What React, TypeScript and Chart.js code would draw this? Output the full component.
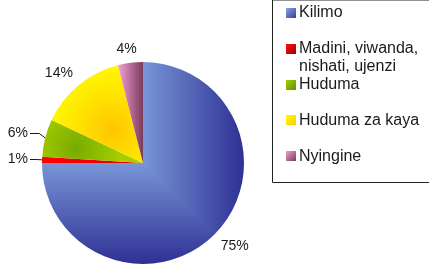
import { useEffect, useRef } from 'react';
import { Chart, registerables } from 'chart.js';

Chart.register(...registerables);

// ---- data ----
const categories = ['Kilimo', 'Madini, viwanda, nishati, ujenzi', 'Huduma', 'Huduma za kaya', 'Nyingine'];
const shares = [75, 1, 6, 14, 4];

// ---- styles ----
const flatColors = ['#5a6fc0', '#ff0000', '#8fbf00', '#ffe600', '#c0709a'];
const markerLight = ['#8aa6e0', '#ff1010', '#a4d000', '#ffff00', '#f29ad0'];
const markerDark = ['#3a3c9c', '#a00000', '#5f9000', '#ffc800', '#7a3c5e'];
const LABEL_FONT = '14px "Liberation Sans", Arial, Helvetica, sans-serif';
const LEGEND_FONT = '16px "Liberation Sans", Arial, Helvetica, sans-serif';
const TEXT = '#1a1a1a';

function geom(chart: any) {
  const a = chart.chartArea;
  const cx = (a.left + a.right) / 2;
  const cy = (a.top + a.bottom) / 2;
  const r = Math.min(a.right - a.left, a.bottom - a.top) / 2;
  return { cx, cy, r };
}

function bluePattern(chart: any) {
  const { cx, cy, r } = geom(chart);
  const key = `${cx},${cy},${r},${chart.width},${chart.height}`;
  if (chart.$bluePat && chart.$bluePatKey === key) return chart.$bluePat;
  const c = document.createElement('canvas');
  c.width = chart.width;
  c.height = chart.height;
  const cctx = c.getContext('2d')!;
  const img = cctx.createImageData(c.width, c.height);
  const L = [120, 150, 214];
  const D = [46, 48, 148];
  for (let y = 0; y < c.height; y++) {
    for (let x = 0; x < c.width; x++) {
      const dx = x + 0.5 - cx;
      const dy = y + 0.5 - cy;
      let t = Math.max(dx, dy) / r;
      t = Math.max(0, Math.min(1, t));
      const i = (y * c.width + x) * 4;
      img.data[i] = L[0] + (D[0] - L[0]) * t;
      img.data[i + 1] = L[1] + (D[1] - L[1]) * t;
      img.data[i + 2] = L[2] + (D[2] - L[2]) * t;
      img.data[i + 3] = 255;
    }
  }
  cctx.putImageData(img, 0, 0);
  const pat = chart.ctx.createPattern(c, 'no-repeat');
  chart.$bluePat = pat;
  chart.$bluePatKey = key;
  return pat;
}

function sliceFill(context: any) {
  const chart = context.chart;
  const i = context.dataIndex;
  if (!chart.chartArea) return flatColors[i];
  const { cx, cy, r } = geom(chart);
  const ctx = chart.ctx;
  if (i === 0) return bluePattern(chart);
  if (i === 1) {
    const g = ctx.createLinearGradient(cx - r, 0, cx, 0);
    g.addColorStop(0, '#ff0000');
    g.addColorStop(1, '#e00000');
    return g;
  }
  if (i === 2) {
    const gx = cx - 0.66 * r;
    const gy = cy - 0.15 * r;
    const g = ctx.createRadialGradient(gx, gy, 0, gx, gy, 0.45 * r);
    g.addColorStop(0, '#78ab00');
    g.addColorStop(1, '#a6cf00');
    return g;
  }
  if (i === 3) {
    const gx = cx - 0.3 * r;
    const gy = cy - 0.33 * r;
    const g = ctx.createRadialGradient(gx, gy, 0, gx, gy, 0.7 * r);
    g.addColorStop(0, '#ffc600');
    g.addColorStop(0.45, '#ffe000');
    g.addColorStop(1, '#ffff00');
    return g;
  }
  const g = ctx.createLinearGradient(cx - 0.25 * r, 0, cx, 0);
  g.addColorStop(0, '#f7a2d6');
  g.addColorStop(1, '#7a3a5c');
  return g;
}

const clamp1 = (v: number) => Math.max(-1, Math.min(1, v));

const labelPlugin = {
  id: 'pctLabels',
  afterDatasetsDraw(chart: any) {
    const ctx = chart.ctx;
    const meta = chart.getDatasetMeta(0);
    const data = chart.data.datasets[0].data as number[];
    const total = data.reduce((s, v) => s + v, 0);
    ctx.save();
    ctx.font = LABEL_FONT;
    ctx.fillStyle = TEXT;
    ctx.strokeStyle = TEXT;
    ctx.lineWidth = 1;
    ctx.textBaseline = 'middle';
    meta.data.forEach((arc: any, i: number) => {
      const p = arc.getProps(['x', 'y', 'startAngle', 'endAngle', 'outerRadius'], true);
      const mid = (p.startAngle + p.endAngle) / 2;
      const dx = Math.cos(mid);
      const dy = Math.sin(mid);
      const pct = (data[i] / total) * 100;
      const text = `${Math.round(pct)}%`;
      const w = ctx.measureText(text).width;
      const ex = p.x + p.outerRadius * dx;
      const ey = p.y + p.outerRadius * dy;
      if (pct < 10 && dx < -0.9) {
        const ly = p.y + (p.outerRadius + 18) * dy;
        const right = p.x - p.outerRadius - 14;
        ctx.textAlign = 'right';
        ctx.fillText(text, right, ly);
        ctx.beginPath();
        ctx.moveTo(right + 2, Math.round(ly) + 0.5);
        ctx.lineTo(ex - 6, Math.round(ly) + 0.5);
        ctx.lineTo(ex, ey);
        ctx.stroke();
      } else {
        const d = p.outerRadius + 9;
        const h = 10;
        const px = p.x + d * dx;
        const py = p.y + d * dy;
        const lx = px + (clamp1(dx * 2) * w) / 2;
        const ly = py + (clamp1(dy * 2) * h) / 2;
        ctx.textAlign = 'center';
        ctx.fillText(text, lx, ly);
      }
    });
    ctx.restore();
  },
};

function wrap(ctx: any, text: string, maxW: number): string[] {
  const words = text.split(' ');
  const lines: string[] = [];
  let cur = '';
  for (const w of words) {
    const t = cur ? cur + ' ' + w : w;
    if (cur && ctx.measureText(t).width > maxW) {
      lines.push(cur);
      cur = w;
    } else cur = t;
  }
  if (cur) lines.push(cur);
  return lines;
}

const legendPlugin = {
  id: 'boxLegend',
  afterDraw(chart: any) {
    const ctx = chart.ctx;
    const labels = chart.data.labels as string[];
    const boxLeft = 272.5;
    const boxTop = 0;
    const boxBottom = 182.5;
    ctx.save();
    ctx.strokeStyle = '#222';
    ctx.lineWidth = 1;
    ctx.beginPath();
    ctx.moveTo(chart.width + 2, boxTop);
    ctx.lineTo(boxLeft, boxTop);
    ctx.lineTo(boxLeft, boxBottom);
    ctx.lineTo(chart.width + 2, boxBottom);
    ctx.stroke();

    ctx.font = LEGEND_FONT;
    ctx.textBaseline = 'middle';
    ctx.textAlign = 'left';
    const markX = 286;
    const markS = 10;
    const textX = 299;
    const firstY = 13;
    const step = 35.8;
    const lineH = 18;
    labels.forEach((lab, i) => {
      const yc = firstY + step * i;
      const my = Math.round(yc - markS / 2);
      const g = ctx.createLinearGradient(markX, my, markX + markS, my + markS);
      g.addColorStop(0, markerLight[i]);
      g.addColorStop(1, markerDark[i]);
      ctx.fillStyle = g;
      ctx.fillRect(markX, my, markS, markS);
      ctx.fillStyle = TEXT;
      const lines = wrap(ctx, lab, 126);
      lines.forEach((ln, k) => ctx.fillText(ln, textX, yc + k * lineH));
    });
    ctx.restore();
  },
};

export default function App() {
  const ref = useRef<HTMLCanvasElement>(null);
  useEffect(() => {
    if (!ref.current) return;
    const chart = new Chart(ref.current, {
      type: 'pie',
      data: {
        labels: categories,
        datasets: [
          {
            data: shares,
            backgroundColor: sliceFill as any,
            borderWidth: 0,
          },
        ],
      },
      options: {
        responsive: false,
        animation: false,
        devicePixelRatio: 1,
        layout: { padding: { left: 42, right: 185, top: 62, bottom: 4 } },
        plugins: {
          legend: { display: false },
          tooltip: { enabled: false },
        },
        events: [],
      },
      plugins: [labelPlugin, legendPlugin],
    });
    return () => chart.destroy();
  }, []);
  return (
    <div style={{ position: 'absolute', left: 0, top: 0, width: 429, height: 268, background: '#fff' }}>
      <canvas ref={ref} width={429} height={268} style={{ display: 'block' }} />
    </div>
  );
}
